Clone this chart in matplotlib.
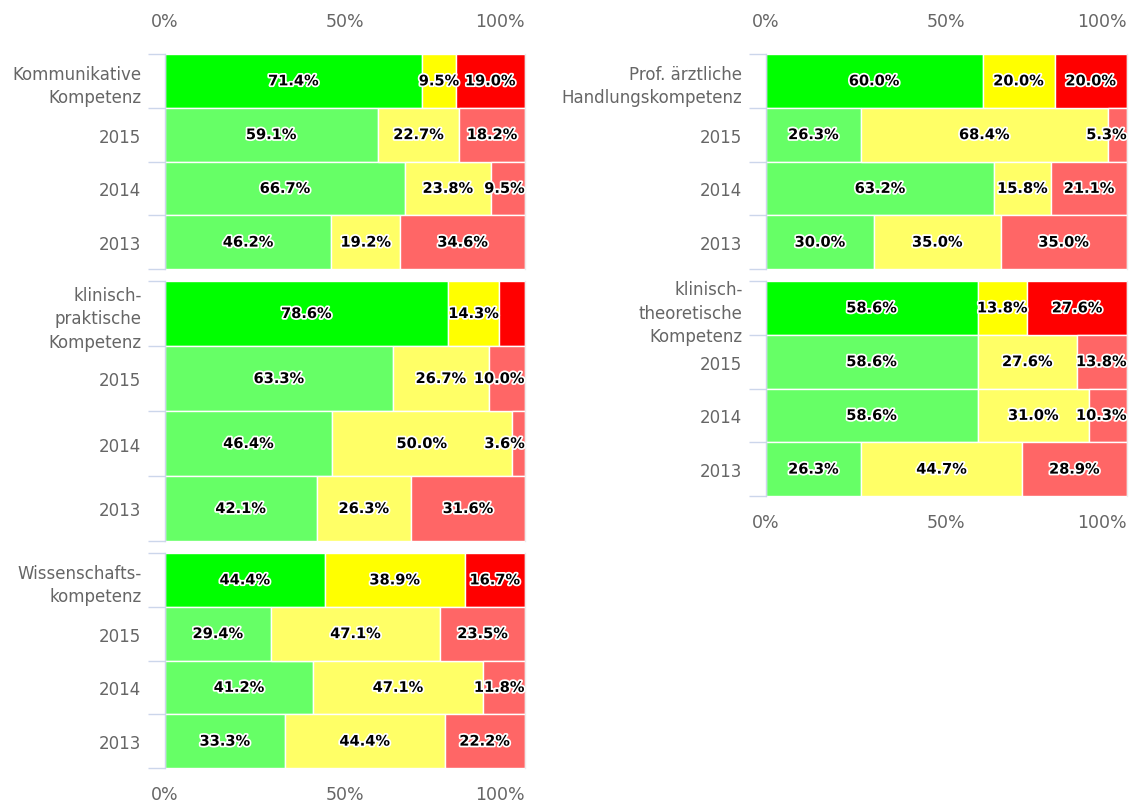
import numpy as np
import matplotlib
matplotlib.use("Agg")
import matplotlib.pyplot as plt
import matplotlib.patheffects as pe

"""data"""

years = ["2015", "2014", "2013"]  # rows under each group header

# Kommunikative Kompetenz
komm_name = "Kommunikative\nKompetenz"
komm_good = [71.4, 59.1, 66.7, 46.2]
komm_mid = [9.5, 22.7, 23.8, 19.2]
komm_bad = [19.0, 18.2, 9.5, 34.6]

# klinisch-praktische Kompetenz
prak_name = "klinisch-\npraktische\nKompetenz"
prak_good = [78.6, 63.3, 46.4, 42.1]
prak_mid = [14.3, 26.7, 50.0, 26.3]
prak_bad = [7.1, 10.0, 3.6, 31.6]

# Wissenschaftskompetenz
wiss_name = "Wissenschafts-\nkompetenz"
wiss_good = [44.4, 29.4, 41.2, 33.3]
wiss_mid = [38.9, 47.1, 47.1, 44.4]
wiss_bad = [16.7, 23.5, 11.8, 22.2]

# Prof. aerztliche Handlungskompetenz
prof_name = "Prof. ärztliche\nHandlungskompetenz"
prof_good = [60.0, 26.3, 63.2, 30.0]
prof_mid = [20.0, 68.4, 15.8, 35.0]
prof_bad = [20.0, 5.3, 21.1, 35.0]

# klinisch-theoretische Kompetenz
theo_name = "klinisch-\ntheoretische\nKompetenz"
theo_good = [58.6, 58.6, 58.6, 26.3]
theo_mid = [13.8, 27.6, 31.0, 44.7]
theo_bad = [27.6, 13.8, 10.3, 28.9]

x_ticks = [0, 50, 100]
x_tick_labels = ["0%", "50%", "100%"]

"""style"""

W, H = 1131, 803
grey = "#666666"
axis_col = "#ccd6eb"
top_cols = ["#00ff00", "#ffff00", "#ff0000"]  # group header row
year_cols = ["#66ff66", "#ffff66", "#ff6666"]  # year rows

def px_rect(x0, x1, y0, y1):
    """pixel box (top-left origin) -> figure fraction rect"""
    return [x0 / W, 1 - y1 / H, (x1 - x0) / W, (y1 - y0) / H]

fig = plt.figure(figsize=(W / 100, H / 100), dpi=100)

# (name, good, mid, bad, pixel box, x labels where)
groups = [
    (komm_name, komm_good, komm_mid, komm_bad, (165, 525, 55, 270), "top"),
    (prak_name, prak_good, prak_mid, prak_bad, (165, 525, 282, 542), None),
    (wiss_name, wiss_good, wiss_mid, wiss_bad, (165, 525, 554, 769), "bottom"),
    (prof_name, prof_good, prof_mid, prof_bad, (766, 1127, 55, 270), "top"),
    (theo_name, theo_good, theo_mid, theo_bad, (766, 1127, 282, 497), "bottom"),
]

all_rows = []  # (axes, [labels per row])

for name, good, mid, bad, box, xlab in groups:
    ax = fig.add_axes(px_rect(*box))
    pos = np.arange(4)
    left = np.zeros(4)
    row_texts = [[] for _ in range(4)]
    for j, vals in enumerate([good, mid, bad]):
        vals = np.array(vals)
        cols = [top_cols[j]] + [year_cols[j]] * 3
        ax.barh(pos, vals, left=left, height=1.0, color=cols,
                edgecolor="white", linewidth=1.0, zorder=2)
        for i in range(4):
            t = ax.text(left[i] + vals[i] / 2, pos[i], "%.1f%%" % vals[i],
                        ha="center", va="center", fontsize=10.5, fontweight="bold",
                        color="black", zorder=5,
                        path_effects=[pe.withStroke(linewidth=2.5, foreground="white")])
            row_texts[i].append(t)
        left = left + vals
    all_rows.append((ax, row_texts))

    ax.set_xlim(0, 100)
    ax.set_ylim(3.5, -0.5)

    # y axis: ticks on row boundaries, labels in the middle
    ax.set_yticks(np.arange(-0.5, 4.0, 1.0))
    ax.set_yticklabels([])
    ax.set_yticks(pos, minor=True)
    ax.set_yticklabels([name] + years, minor=True, fontsize=12, color=grey,
                       linespacing=1.4)
    ax.tick_params(axis="y", which="major", length=12, width=1.0, color=axis_col)
    ax.tick_params(axis="y", which="minor", length=0, pad=17)

    for s in ["top", "bottom"]:
        ax.spines[s].set_visible(False)
    ax.spines["left"].set_color(axis_col)
    ax.spines["left"].set_linewidth(1.0)
    ax.spines["right"].set_color("#ececec")
    ax.spines["right"].set_linewidth(1.0)

    # x axis labels only on top / bottom of each column
    ax.set_xticks(x_ticks)
    if xlab == "top":
        ax.set_xticklabels(x_tick_labels, fontsize=12.5, color=grey)
        ax.tick_params(axis="x", length=0, labeltop=True, labelbottom=False, pad=17)
    elif xlab == "bottom":
        ax.set_xticklabels(x_tick_labels, fontsize=12.5, color=grey)
        ax.tick_params(axis="x", length=0, labeltop=False, labelbottom=True, pad=12)
    else:
        ax.tick_params(axis="x", length=0, labelbottom=False)
    if xlab is not None:
        ax.get_xticklabels()[-1].set_ha("right")

# keep data labels inside the plot area, drop the ones that collide
fig.canvas.draw()
renderer = fig.canvas.get_renderer()
for ax, row_texts in all_rows:
    edge = ax.get_window_extent(renderer).x1
    for row in row_texts:
        prev = None
        for t in row:
            bb = t.get_window_extent(renderer)
            if bb.x1 > edge:
                t.set_ha("right")
                t.set_x(100)
                bb = t.get_window_extent(renderer)
            if prev is not None and bb.x0 < prev.x1:
                t.set_visible(False)
                continue
            prev = bb

fig.savefig("out.png", dpi=100)
